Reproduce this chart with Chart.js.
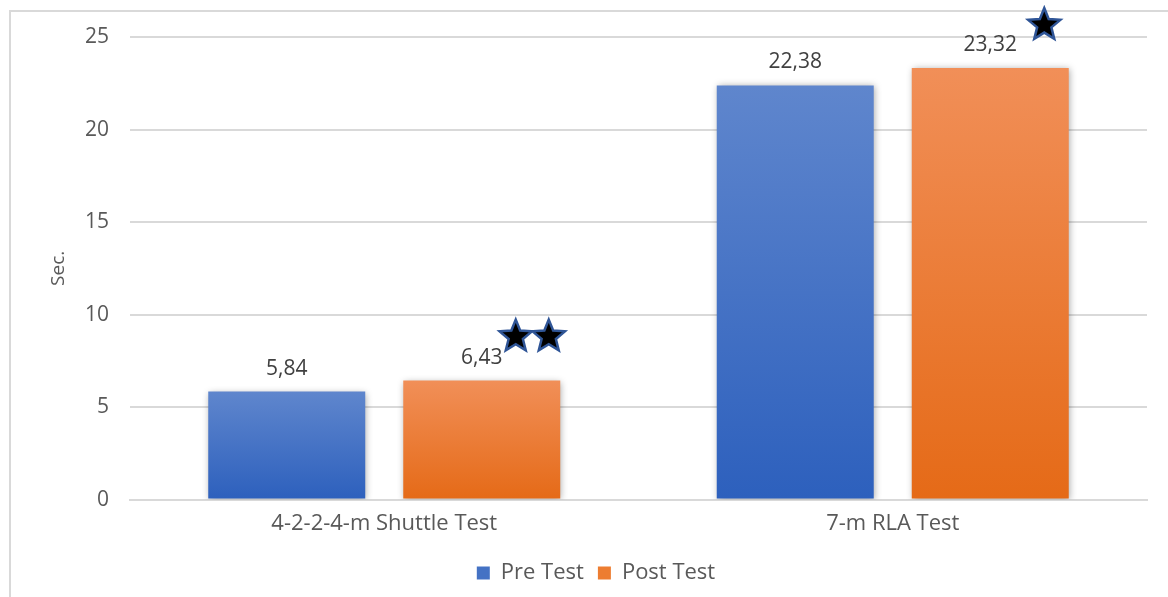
<!DOCTYPE html>
<html>
<head>
<meta charset="utf-8">
<script src="https://cdn.jsdelivr.net/npm/chart.js@4/dist/chart.umd.min.js"></script>
<style>
  html, body { margin: 0; padding: 0; background: #fff; }
  #wrap { position: relative; width: 1168px; height: 597px; overflow: hidden; }
  #frame { position: absolute; left: 9px; top: 10px; width: 1200px; height: 700px;
           border-left: 2px solid #D9D9D9; border-top: 2px solid #D9D9D9; box-sizing: border-box; }
  canvas { position: absolute; left: 0; top: 0; }
</style>
</head>
<body>
<div id="wrap">
  <div id="frame"></div>
  <canvas id="c" width="1168" height="597"></canvas>
</div>
<script>
const categories = ['4-2-2-4-m Shuttle Test', '7-m RLA Test'];
const seriesNames = ['Pre Test', 'Post Test'];
const preTest = [5.84, 22.38];
const postTest = [6.43, 23.32];
const postStars = [2, 1];   // significance stars drawn above Post Test bars
const yTicks = [0, 5, 10, 15, 20, 25];

const FONT = "'Open Sans', 'Noto Sans', sans-serif";

function barGradient(top, bottom) {
  return function (ctx) {
    const chart = ctx.chart;
    const y = chart.scales && chart.scales.y;
    if (!chart.chartArea || !y || ctx.raw == null) return bottom;
    const y0 = y.getPixelForValue(ctx.raw);
    const y1 = y.getPixelForValue(0);
    const g = chart.ctx.createLinearGradient(0, y0, 0, y1);
    g.addColorStop(0, top);
    g.addColorStop(1, bottom);
    return g;
  };
}

const shadowPlugin = {
  id: 'barShadow',
  beforeDatasetsDraw(chart) {
    const c = chart.ctx;
    c.save();
    c.shadowColor = 'rgba(0,0,0,0.35)';
    c.shadowBlur = 7;
    c.shadowOffsetX = 1;
    c.shadowOffsetY = 1;
  },
  afterDatasetsDraw(chart) {
    chart.ctx.restore();
  }
};

function drawStar(c, cx, cy, rOut, rIn) {
  c.beginPath();
  for (let i = 0; i < 10; i++) {
    const r = i % 2 === 0 ? rOut : rIn;
    const a = -Math.PI / 2 + i * Math.PI / 5;
    const px = cx + r * Math.cos(a), py = cy + r * Math.sin(a);
    if (i === 0) c.moveTo(px, py); else c.lineTo(px, py);
  }
  c.closePath();
  c.fillStyle = '#000';
  c.fill();
  c.lineWidth = 2.5;
  c.strokeStyle = '#2F5597';
  c.lineJoin = 'miter';
  c.stroke();
}

const labelPlugin = {
  id: 'valueLabels',
  afterDatasetsDraw(chart) {
    const c = chart.ctx;
    c.save();
    c.font = "21px " + FONT;
    c.fillStyle = '#404040';
    c.textAlign = 'center';
    c.textBaseline = 'middle';
    chart.data.datasets.forEach((ds, di) => {
      const meta = chart.getDatasetMeta(di);
      meta.data.forEach((bar, i) => {
        const v = ds.data[i];
        c.fillText(v.toFixed(2).replace('.', ','), bar.x, bar.y - 23);
      });
    });
    const meta = chart.getDatasetMeta(1);
    meta.data.forEach((bar, i) => {
      const n = postStars[i];
      if (n === 2) {
        drawStar(c, bar.x + 34, bar.y - 44, 17, 7.5);
        drawStar(c, bar.x + 67, bar.y - 44, 17, 7.5);
      } else if (n === 1) {
        drawStar(c, bar.x + 54, bar.y - 43, 17, 7.5);
      }
    });
    c.restore();
  }
};

new Chart(document.getElementById('c'), {
  type: 'bar',
  data: {
    labels: categories,
    datasets: [
      { label: seriesNames[0], data: preTest,
        backgroundColor: barGradient('#5F86CD', '#2D60BD'), borderWidth: 0 },
      { label: seriesNames[1], data: postTest,
        backgroundColor: barGradient('#F18F58', '#E56A17'), borderWidth: 0 }
    ]
  },
  options: {
    responsive: false,
    animation: false,
    devicePixelRatio: 1,
    layout: { padding: { left: 45, right: 21, top: 37, bottom: 3 } },
    datasets: { bar: { categoryPercentage: 0.767, barPercentage: 0.805 } },
    plugins: {
      tooltip: { enabled: false },
      legend: {
        position: 'bottom',
        labels: {
          font: { family: FONT, size: 22 },
          color: '#595959',
          boxWidth: 13, boxHeight: 13,
          padding: 14,
          generateLabels(chart) {
            return chart.data.datasets.map((ds, i) => ({
              text: ds.label,
              fillStyle: i === 0 ? '#4472C4' : '#ED7D31',
              strokeStyle: 'rgba(0,0,0,0)',
              lineWidth: 0,
              datasetIndex: i,
              fontColor: '#595959'
            }));
          }
        }
      }
    },
    scales: {
      x: {
        grid: { display: false, drawTicks: false },
        border: { display: true, color: '#D9D9D9', width: 2 },
        ticks: { font: { family: FONT, size: 22 }, color: '#595959', padding: 11 }
      },
      y: {
        min: 0, max: 25,
        afterBuildTicks(scale) { scale.ticks = yTicks.map(v => ({ value: v })); },
        afterFit(scale) { scale.width = 85; },
        grid: { color: '#D9D9D9', lineWidth: 2, drawTicks: false },
        border: { display: false },
        ticks: { font: { family: FONT, size: 21 }, color: '#595959', padding: 21 },
        title: { display: true, text: 'Sec.', font: { family: FONT, size: 19 }, color: '#595959',
                 padding: { top: 2, bottom: 0 } }
      }
    }
  },
  plugins: [shadowPlugin, labelPlugin]
});
</script>
</body>
</html>
